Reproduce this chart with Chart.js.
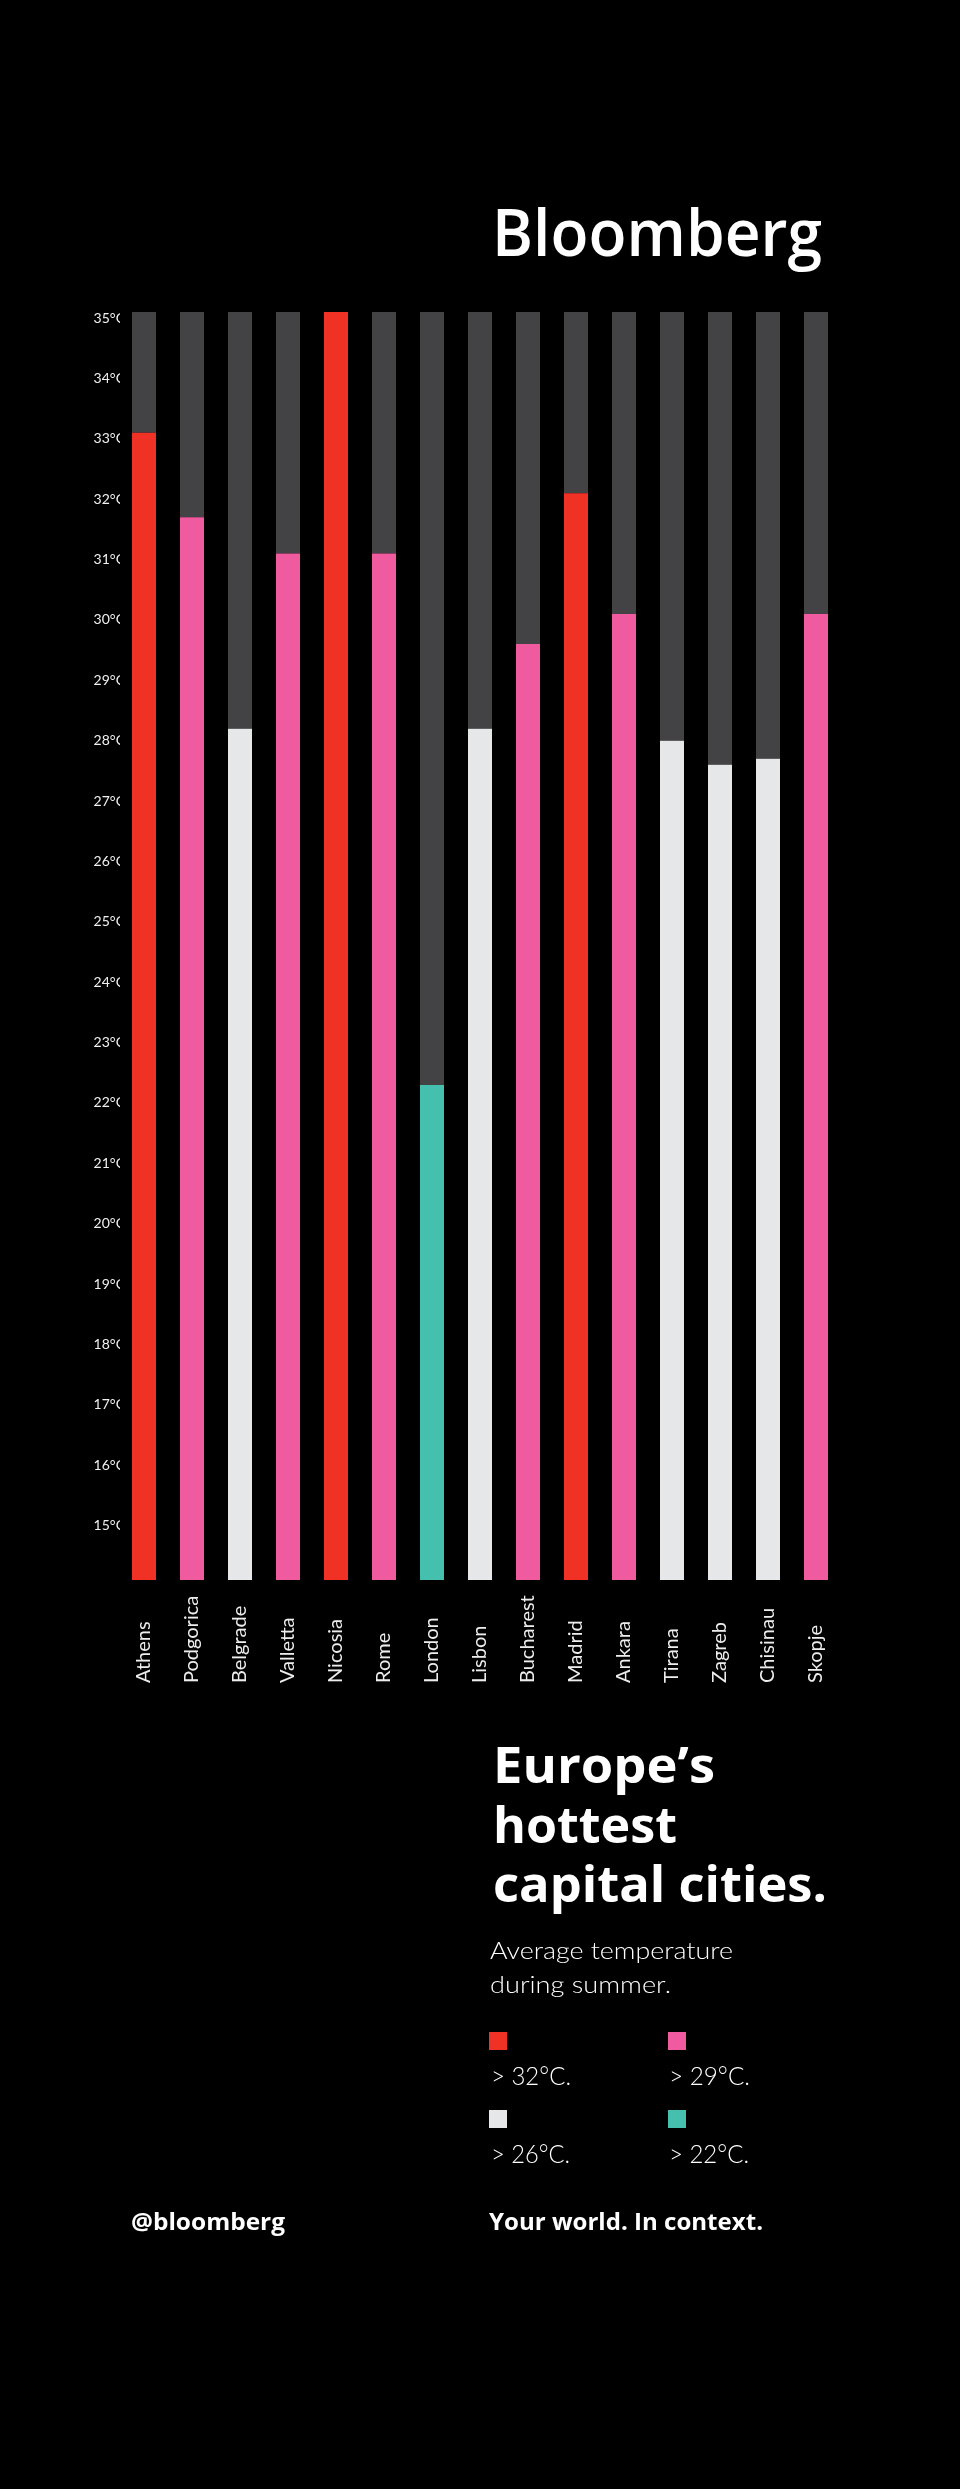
<!DOCTYPE html>
<html>
<head>
<meta charset="utf-8">
<script src="https://cdn.jsdelivr.net/npm/chart.js@4.4.0/dist/chart.umd.min.js"></script>
<style>
  html, body { margin: 0; padding: 0; background: #000; }
  #page { position: relative; width: 960px; height: 2489px; background: #000; overflow: hidden; }
  #chartBox { position: absolute; left: 0; top: 300px; width: 960px; height: 1420px; }
  #overlay { position: absolute; left: 0; top: 0; pointer-events: none; }
  .light { font-family: Lato, 'Open Sans', sans-serif; font-weight: 300; fill: #ffffff; }
  .bold { font-family: 'Open Sans', Lato, sans-serif; font-weight: 700; fill: #ffffff; }
</style>
</head>
<body>
<div id="page">
  <div id="chartBox"><canvas id="c" width="960" height="1420" style="width:960px;height:1420px"></canvas></div>
  <svg id="overlay" width="960" height="2489" xmlns="http://www.w3.org/2000/svg">
    <text x="492" y="256" font-family="'Open Sans', sans-serif" font-weight="600" font-size="66" fill="#fff" textLength="330" lengthAdjust="spacingAndGlyphs">Bloomberg</text>

    <text class="bold" x="493" y="1783" font-size="51" textLength="222" lengthAdjust="spacingAndGlyphs">Europe’s</text>
    <text class="bold" x="493" y="1843" font-size="51" textLength="184" lengthAdjust="spacingAndGlyphs">hottest</text>
    <text class="bold" x="493" y="1902" font-size="51" textLength="334" lengthAdjust="spacingAndGlyphs">capital cities.</text>

    <text class="light" x="490" y="1959" font-size="23" textLength="243" lengthAdjust="spacingAndGlyphs">Average temperature</text>
    <text class="light" x="490" y="1993" font-size="23" textLength="181" lengthAdjust="spacingAndGlyphs">during summer.</text>

    <g id="legend"></g>

    <text class="bold" x="131" y="2230" font-size="23" textLength="154" lengthAdjust="spacingAndGlyphs">@bloomberg</text>
    <text class="bold" x="489" y="2230" font-size="23" textLength="274" lengthAdjust="spacingAndGlyphs">Your world. In context.</text>
  </svg>
</div>
<script>
// ---- data ----
const cities = ['Athens','Podgorica','Belgrade','Valletta','Nicosia','Rome','London','Lisbon','Bucharest','Madrid','Ankara','Tirana','Zagreb','Chisinau','Skopje'];
const temps  = [33.0, 31.6, 28.1, 31.0, 35.0, 31.0, 22.2, 28.1, 29.5, 32.0, 30.0, 27.9, 27.5, 27.6, 30.0];
const bands  = ['hot32','hot29','hot26','hot29','hot32','hot29','hot22','hot26','hot29','hot32','hot29','hot26','hot26','hot26','hot29'];
const legendKeys   = ['hot32','hot29','hot26','hot22'];
const legendLabels = ['> 32°C.','> 29°C.','> 26°C.','> 22°C.'];
const axisMin = 14;
const axisMax = 35;
const tickUnit = '°C';

// ---- styles ----
const palette = { hot32: '#EF3126', hot29: '#F05B9F', hot26: '#E6E7E8', hot22: '#45BFAE' };
const restColor = '#434244';

// legend (SVG)
(function buildLegend(){
  const g = document.getElementById('legend');
  const ns = 'http://www.w3.org/2000/svg';
  const pos = [[489, 2032, 491, 2085, 80],[668, 2032, 669, 2085, 81],[489, 2110, 491, 2163, 79],[668, 2110, 669, 2163, 80]];
  legendKeys.forEach((k, i) => {
    const p = pos[i];
    const r = document.createElementNS(ns, 'rect');
    r.setAttribute('x', p[0]); r.setAttribute('y', p[1]);
    r.setAttribute('width', 18); r.setAttribute('height', 18);
    r.setAttribute('fill', palette[k]);
    g.appendChild(r);
    const t = document.createElementNS(ns, 'text');
    t.setAttribute('class', 'light');
    t.setAttribute('x', p[2]); t.setAttribute('y', p[3]);
    t.setAttribute('font-size', 25);
    t.setAttribute('textLength', p[4]);
    t.setAttribute('lengthAdjust', 'spacingAndGlyphs');
    t.textContent = legendLabels[i];
    g.appendChild(t);
  });
})();

const LABEL_START_Y = 1383; // canvas coords where rotated city names begin

const bottomAlignLabels = {
  id: 'bottomAlignLabels',
  beforeDraw(chart) {
    const s = chart.scales.x;
    const items = s.getLabelItems(chart.chartArea);
    items.forEach(it => {
      it.options.textAlign = 'left';
      it.options.translation[1] = LABEL_START_Y;
    });
  }
};

new Chart(document.getElementById('c'), {
  type: 'bar',
  data: {
    labels: cities,
    datasets: [
      {
        data: temps,
        backgroundColor: bands.map(b => palette[b]),
        borderWidth: 0,
        barPercentage: 0.5,
        categoryPercentage: 1.0
      },
      {
        data: temps.map(t => axisMax - t),
        backgroundColor: restColor,
        borderWidth: 0,
        barPercentage: 0.5,
        categoryPercentage: 1.0
      }
    ]
  },
  options: {
    responsive: false,
    animation: false,
    layout: { padding: { left: 0, right: 120, top: 12, bottom: 0 } },
    plugins: { legend: { display: false }, tooltip: { enabled: false } },
    scales: {
      x: {
        stacked: true,
        grid: { display: false, drawTicks: false },
        border: { display: false },
        ticks: {
          color: '#EDEDED',
          font: { family: 'Lato', weight: '400', size: 20 },
          minRotation: 90,
          maxRotation: 90,
          autoSkip: false,
          padding: 0
        },
        afterFit(scale) { scale.height = 140; }
      },
      y: {
        stacked: true,
        min: axisMin,
        max: axisMax,
        grid: { display: false, drawTicks: false },
        border: { display: false },
        ticks: {
          stepSize: 1,
          color: '#F0F0F0',
          font: { family: 'Lato', weight: '400', size: 14 },
          padding: -5,
          labelOffset: 6,
          callback: (v) => (v > axisMin ? v + tickUnit : '')
        },
        afterFit(scale) { scale.width = 120; }
      }
    }
  },
  plugins: [bottomAlignLabels]
});
</script>
</body>
</html>
